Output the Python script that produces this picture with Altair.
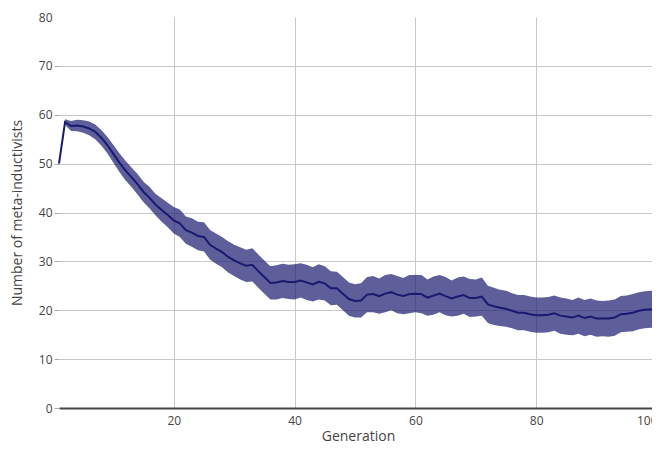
import altair as alt
import pandas as pd

generation = list(range(1, 101))

mean_count = [
    50.0, 58.5, 57.7, 57.8, 57.6, 57.2, 56.5, 55.3, 53.8, 52.0,
    50.2, 48.6, 47.2, 45.8, 44.2, 43.0, 41.6, 40.5, 39.5, 38.4,
    37.8, 36.4, 35.9, 35.2, 35.0, 33.4, 32.6, 31.9, 30.9, 30.2,
    29.6, 29.1, 29.3, 28.0, 26.8, 25.6, 25.7, 26.0, 25.8, 25.8,
    26.1, 25.7, 25.3, 25.8, 25.5, 24.5, 24.5, 23.4, 22.3, 21.9,
    22.0, 23.2, 23.3, 22.9, 23.4, 23.7, 23.2, 22.9, 23.3, 23.4,
    23.3, 22.6, 23.0, 23.4, 22.9, 22.4, 22.8, 23.1, 22.5, 22.5,
    22.8, 21.2, 20.8, 20.5, 20.3, 19.9, 19.5, 19.5, 19.2, 19.0,
    19.0, 19.1, 19.4, 18.9, 18.7, 18.5, 18.9, 18.4, 18.7, 18.3,
    18.3, 18.3, 18.5, 19.2, 19.3, 19.5, 19.9, 20.1, 20.2, 19.9,
]

half_width = [
    0.0, 0.6, 1.0, 1.2, 1.3, 1.4, 1.5, 1.6, 1.7, 1.8,
    1.9, 2.0, 2.0, 2.1, 2.1, 2.2, 2.2, 2.4, 2.5, 2.7,
    2.8, 2.8, 2.9, 2.9, 3.0, 3.0, 3.1, 3.1, 3.2, 3.2,
    3.3, 3.3, 3.4, 3.4, 3.4, 3.4, 3.5, 3.5, 3.5, 3.6,
    3.5, 3.6, 3.5, 3.6, 3.5, 3.5, 3.4, 3.4, 3.4, 3.4,
    3.5, 3.6, 3.7, 3.6, 3.8, 3.7, 3.8, 3.7, 3.9, 3.8,
    3.9, 3.7, 3.9, 3.8, 3.9, 3.7, 3.9, 3.8, 3.9, 3.8,
    3.9, 3.8, 3.8, 3.7, 3.7, 3.6, 3.6, 3.6, 3.6, 3.6,
    3.6, 3.6, 3.6, 3.7, 3.7, 3.6, 3.7, 3.7, 3.7, 3.7,
    3.6, 3.7, 3.7, 3.7, 3.7, 3.8, 3.8, 3.8, 3.8, 3.8,
]

df = pd.DataFrame({
    "Generation": generation,
    "mean": mean_count,
    "lower": [m - h for m, h in zip(mean_count, half_width)],
    "upper": [m + h for m, h in zip(mean_count, half_width)],
})

FONT = "Open Sans"
TXT = "#444444"
GRID = "#c8c8c8"

x_enc = alt.X(
    "Generation:Q",
    scale=alt.Scale(domain=[1, 100], nice=False, zero=False),
    axis=alt.Axis(
        title="Generation",
        values=[20, 40, 60, 80, 100],
        grid=True,
        gridColor=GRID,
        gridWidth=1,
        domain=True,
        domainColor=TXT,
        domainWidth=2,
        ticks=False,
        labelPadding=7,
        titlePadding=3,
    ),
)

y_axis = alt.Axis(
    title="Number of meta-inductivists",
    values=[0, 10, 20, 30, 40, 50, 60, 70, 80],
    grid=True,
    gridColor=alt.condition("datum.value == 80 || datum.value == 0", alt.value("transparent"), alt.value(GRID)),
    gridWidth=1,
    domain=False,
    ticks=True,
    tickSize=5,
    tickColor=alt.condition("datum.value == 80", alt.value("transparent"), alt.value("#aaaaaa")),
    labelPadding=2,
    titlePadding=14,
)

band = alt.Chart(df).mark_area(color="#191970", opacity=0.7).encode(
    x=x_enc,
    y=alt.Y("lower:Q", scale=alt.Scale(domain=[0, 80], nice=False), axis=y_axis),
    y2="upper:Q",
)

line = alt.Chart(df).mark_line(color="#191970", strokeWidth=2).encode(
    x=alt.X("Generation:Q"),
    y=alt.Y("mean:Q"),
)

chart = (
    alt.layer(band, line)
    .properties(
        width=598,
        height=391,
        autosize=alt.AutoSizeParams(type="none"),
        padding={"left": 51, "top": 9, "right": -5, "bottom": 38},
    )
    .configure_view(stroke=None)
    .configure_axis(
        labelFont=FONT,
        titleFont=FONT,
        labelFontSize=12,
        titleFontSize=14,
        labelColor=TXT,
        titleColor=TXT,
        titleFontWeight="normal",
    )
)

chart.save("out.html", embed_options={"renderer": "svg", "actions": False})
